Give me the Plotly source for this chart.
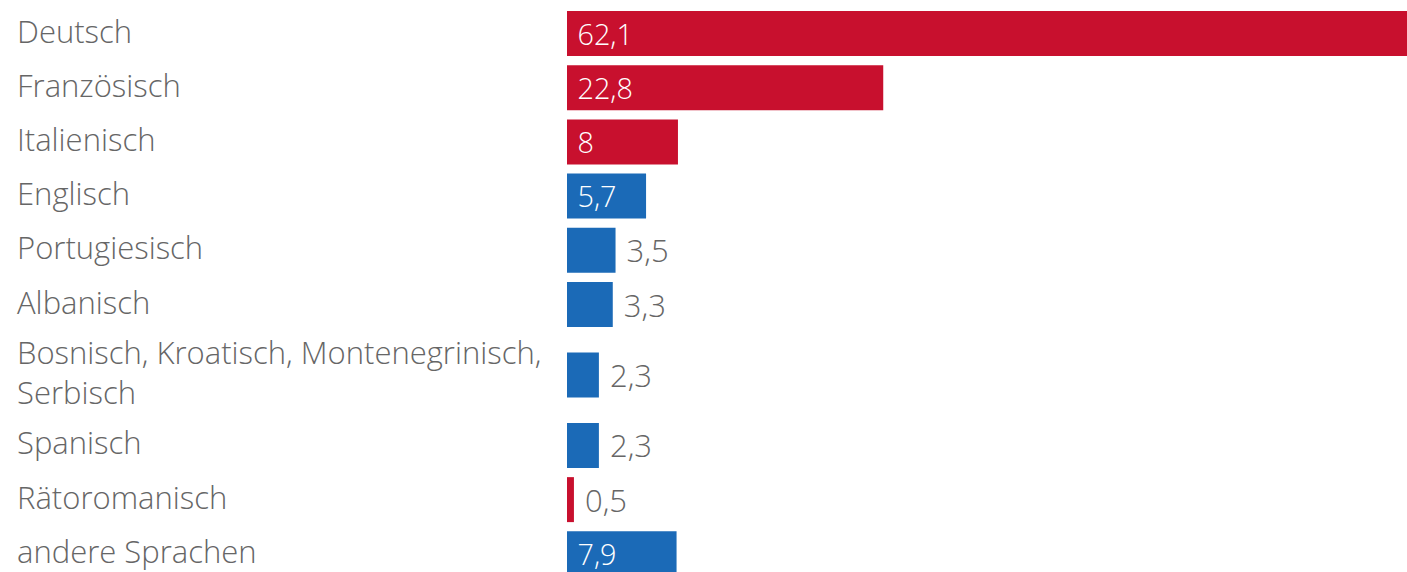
import plotly.graph_objects as go

categories = ["Deutsch", "Französisch", "Italienisch", "Englisch", "Portugiesisch",
              "Albanisch", "Bosnisch, Kroatisch, Montenegrinisch,<br>Serbisch",
              "Spanisch", "Rätoromanisch", "andere Sprachen"]
values = [62.1, 22.8, 8, 5.7, 3.5, 3.3, 2.3, 2.3, 0.5, 7.9]
national = [True, True, True, False, False, False, False, False, True, False]

RED = "#c8102e"
BLUE = "#1b6ab7"
GRAY = "#666666"
FONT = "Open Sans"
LABEL_SIZE = 31
VALUE_SIZE = 31

# row positions: two-line labels get extra room on both sides
positions = []
pos = 0.0
prev_extra = 0.0
for i, c in enumerate(categories):
    extra = 0.3 * c.count("<br>")
    if i > 0:
        pos += 1 + prev_extra + extra
    positions.append(pos)
    prev_extra = extra

texts = [" " + f"{v:g}".replace(".", ",") for v in values]
colors = [RED if n else BLUE for n in national]

W, H = 1407, 572
ML = 567
fig = go.Figure(go.Bar(
    x=values, y=positions, orientation="h",
    marker=dict(color=colors, line=dict(width=0)),
    width=0.83,
    text=texts, textposition="auto", insidetextanchor="start", textangle=0,
    insidetextfont=dict(color="white", size=VALUE_SIZE, family=FONT, weight=300),
    outsidetextfont=dict(color=GRAY, size=VALUE_SIZE, family=FONT, weight=300),
    hoverinfo="skip",
))

for c, p in zip(categories, positions):
    fig.add_annotation(text=c, x=(15 - ML) / (W - ML), xref="paper", y=p, yref="y",
                       xanchor="left", yanchor="middle", align="left", showarrow=False,
                       yshift=3,
                       font=dict(family=FONT, size=LABEL_SIZE, color=GRAY, weight=300))

pitch = 54.2
top = -33.5 / pitch
fig.update_layout(
    width=W, height=H,
    margin=dict(l=ML, r=0, t=0, b=0),
    plot_bgcolor="white", paper_bgcolor="white",
    showlegend=False,
    xaxis=dict(range=[0, (W - ML) / 13.87], visible=False, fixedrange=True),
    yaxis=dict(range=[top + H / pitch, top], visible=False, fixedrange=True),
    font=dict(family=FONT, color=GRAY, weight=300),
)
fig.write_html("out.html", config={"displayModeBar": False})

with open("out.html", encoding="utf-8") as f:
    html = f.read()
html = html.replace("<head>", "<head><style>html,body{margin:0;padding:0;overflow:hidden;}</style>", 1)
with open("out.html", "w", encoding="utf-8") as f:
    f.write(html)
